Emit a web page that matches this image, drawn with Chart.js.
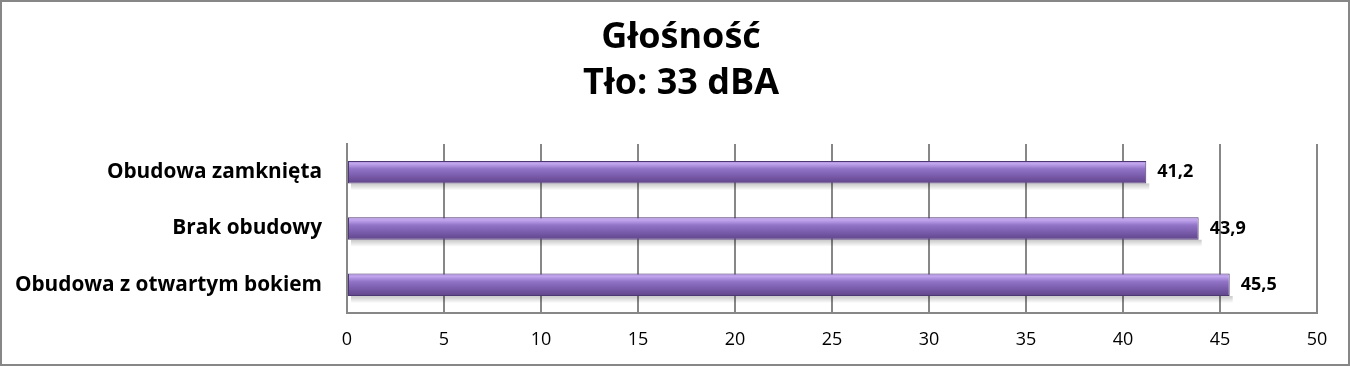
<!DOCTYPE html>
<html>
<head>
<meta charset="utf-8">
<script src="https://cdn.jsdelivr.net/npm/chart.js@4"></script>
<style>
  html, body { margin: 0; padding: 0; background: #fff; }
  #wrap { width: 1350px; height: 366px; }
</style>
</head>
<body>
<div id="wrap"><canvas id="chart" width="1350" height="366"></canvas></div>
<script>
const titleLines = ['Głośność', 'Tło: 33 dBA'];
const categories = ['Obudowa zamknięta', 'Brak obudowy', 'Obudowa z otwartym bokiem'];
const values = [41.2, 43.9, 45.5];
const xTicks = [0, 5, 10, 15, 20, 25, 30, 35, 40, 45, 50];

const FONT = '"Open Sans", Lato, sans-serif';
const BAR_PCT = 0.4;

// gray frame and the two-line title
const frame = {
  id: 'frame',
  beforeDraw(chart) {
    const ctx = chart.ctx;
    ctx.save();
    ctx.fillStyle = '#fff';
    ctx.fillRect(0, 0, chart.width, chart.height);
    ctx.strokeStyle = '#878787';
    ctx.lineWidth = 2;
    ctx.strokeRect(1, 1, chart.width - 2, chart.height - 2);
    ctx.fillStyle = '#000';
    ctx.font = 'bold 36px ' + FONT;
    ctx.textAlign = 'center';
    ctx.textBaseline = 'middle';
    ctx.fillText(titleLines[0], 681, 38);
    ctx.fillText(titleLines[1], 681, 84);
    ctx.restore();
  }
};

// soft shadow under the bars
const barShadow = {
  id: 'barShadow',
  beforeDatasetsDraw(chart) {
    const ctx = chart.ctx;
    ctx.save();
    chart.getDatasetMeta(0).data.forEach(bar => {
      const bottom = bar.y + bar.height / 2;
      const g = ctx.createLinearGradient(0, bottom, 0, bottom + 7);
      g.addColorStop(0, 'rgba(0,0,0,0.22)');
      g.addColorStop(1, 'rgba(0,0,0,0)');
      ctx.fillStyle = g;
      ctx.fillRect(bar.base + 3, bottom, bar.x - bar.base, 7);
    });
    ctx.restore();
  }
};

// value labels right of the bars
const valueLabels = {
  id: 'valueLabels',
  afterDatasetsDraw(chart) {
    const ctx = chart.ctx;
    ctx.save();
    ctx.font = 'bold 18px ' + FONT;
    ctx.fillStyle = '#000';
    ctx.textAlign = 'left';
    ctx.textBaseline = 'middle';
    chart.getDatasetMeta(0).data.forEach((bar, i) => {
      ctx.fillText(values[i].toFixed(1).replace('.', ','), bar.x + 11, bar.y);
    });
    ctx.restore();
  }
};

function barGradient(context) {
  const { chart, dataIndex } = context;
  const area = chart.chartArea;
  const yScale = chart.scales.y;
  if (!area || !yScale) return '#8a68c0';
  const h = (area.bottom - area.top) / categories.length * BAR_PCT;
  const top = yScale.getPixelForValue(dataIndex) - h / 2;
  const g = chart.ctx.createLinearGradient(0, top, 0, top + h);
  g.addColorStop(0, '#a98bd8');
  g.addColorStop(0.12, '#c2a6ee');
  g.addColorStop(0.35, '#9274c8');
  g.addColorStop(0.7, '#7759a8');
  g.addColorStop(1, '#5f4488');
  return g;
}

new Chart(document.getElementById('chart'), {
  type: 'bar',
  data: {
    labels: categories,
    datasets: [{
      data: values,
      backgroundColor: barGradient,
      borderColor: '#4e3872',
      borderWidth: 1,
      borderSkipped: false,
      categoryPercentage: 1,
      barPercentage: BAR_PCT
    }]
  },
  options: {
    indexAxis: 'y',
    responsive: false,
    animation: false,
    layout: { padding: { left: 0, right: 33, top: 144, bottom: 0 } },
    plugins: {
      legend: { display: false },
      tooltip: { enabled: false },
      title: { display: false }
    },
    scales: {
      x: {
        min: 0,
        max: 50,
        afterBuildTicks(scale) { scale.ticks = xTicks.map(v => ({ value: v })); },
        afterFit(scale) { scale.height = 53; },
        grid: { color: '#878787', lineWidth: 2, drawTicks: false },
        border: { color: '#878787', width: 2 },
        ticks: { color: '#000', padding: 16, font: { family: FONT, size: 18 } }
      },
      y: {
        afterFit(scale) { scale.width = 347; },
        grid: { display: false, drawTicks: false },
        border: { color: '#878787', width: 2 },
        ticks: { color: '#000', padding: 25, font: { family: FONT, size: 20.8, weight: 'bold' } }
      }
    }
  },
  plugins: [frame, barShadow, valueLabels]
});
</script>
</body>
</html>
